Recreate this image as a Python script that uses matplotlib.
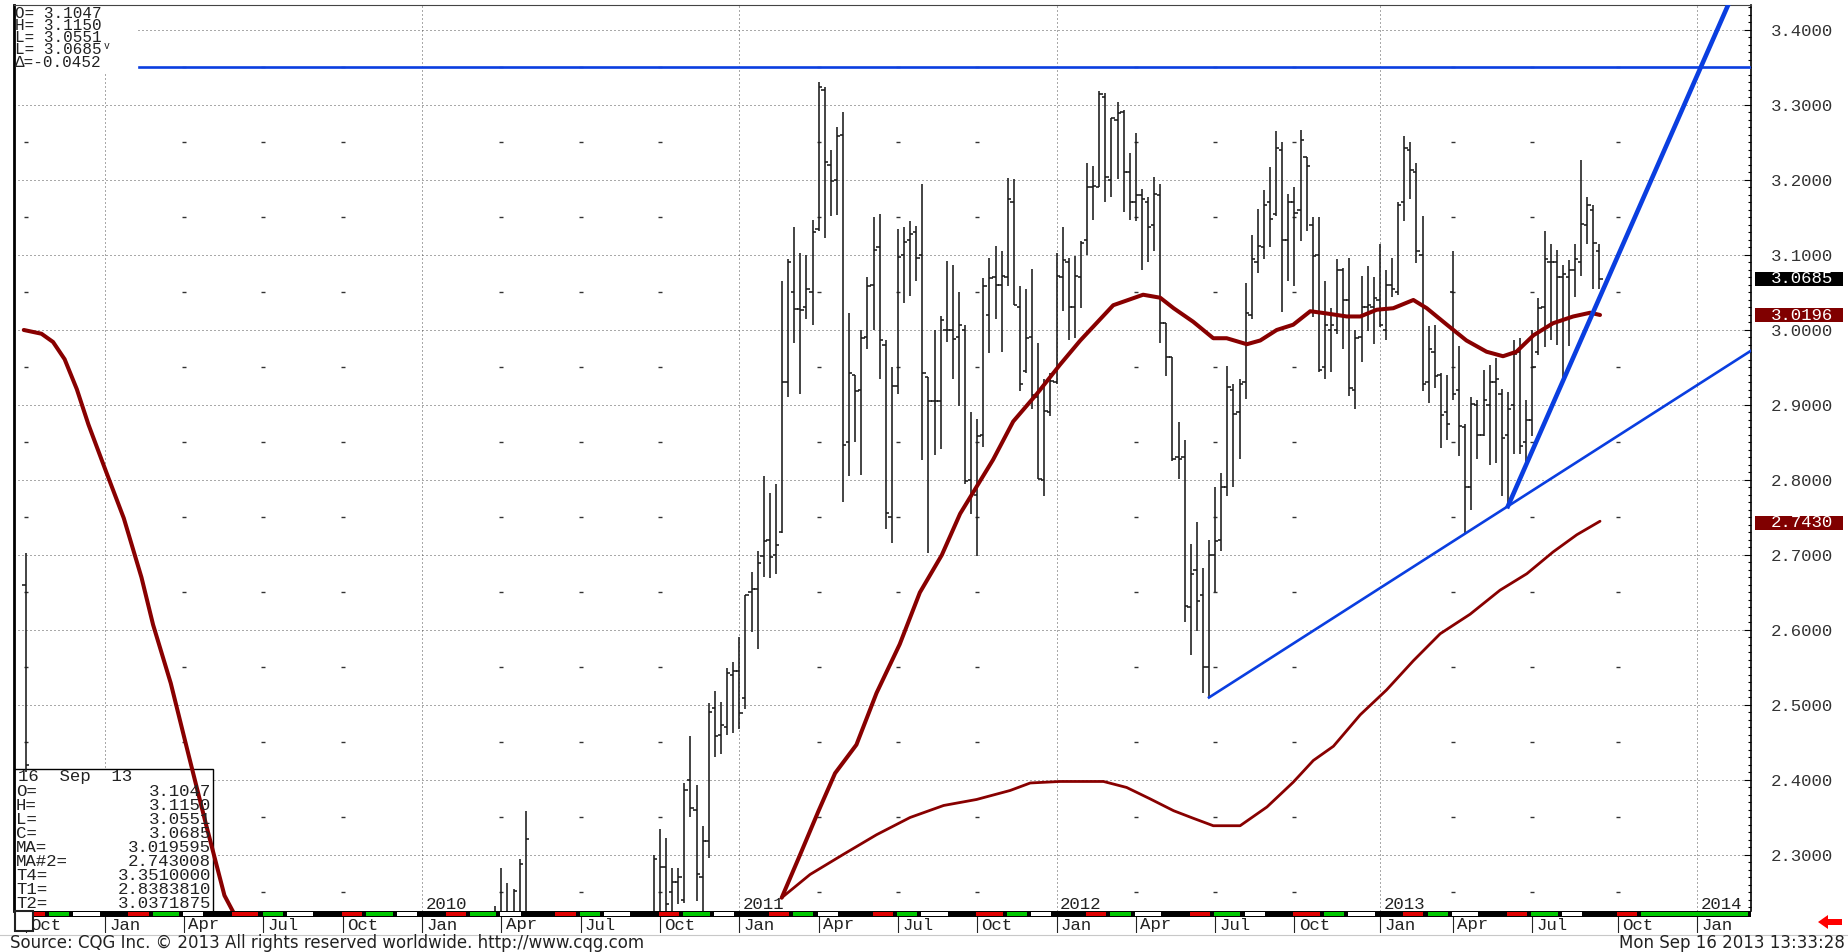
import math
from datetime import date
import matplotlib
matplotlib.use("Agg")
import matplotlib.pyplot as plt
from matplotlib.patches import Rectangle, Polygon
from matplotlib.ticker import MultipleLocator, FormatStrFormatter

W, H = 1848, 952
plt.rcParams['font.family'] = ['Liberation Mono', 'DejaVu Sans Mono']
FS = 12.5

# ---- weekly OHLC bars, week 0 = week of 3 Jan 2011 ----
early_week = [-117, -40, -39, -38, -37, -36, -35,
              -14, -13, -12, -11, -10, -9, -8, -7, -6, -5, -4, -3, -2, -1]
early_open = [2.660, 2.200, 2.200, 2.210, 2.200, 2.210, 2.220,
              2.200, 2.220, 2.284, 2.250, 2.264, 2.240, 2.400, 2.360, 2.270, 2.318, 2.496, 2.460, 2.470, 2.540]
early_high = [2.702, 2.232, 2.283, 2.262, 2.254, 2.295, 2.358,
              2.300, 2.335, 2.323, 2.282, 2.283, 2.396, 2.458, 2.393, 2.339, 2.502, 2.518, 2.504, 2.549, 2.557]
early_low = [2.410, 2.150, 2.150, 2.150, 2.150, 2.180, 2.180,
             2.180, 2.190, 2.200, 2.200, 2.234, 2.236, 2.350, 2.238, 2.200, 2.296, 2.431, 2.435, 2.460, 2.462]
early_close = [2.420, 2.210, 2.210, 2.220, 2.252, 2.288, 2.321,
               2.295, 2.284, 2.235, 2.264, 2.270, 2.386, 2.363, 2.275, 2.318, 2.490, 2.458, 2.473, 2.543, 2.545]

opens = [2.545, 2.509, 2.650, 2.655, 2.698, 2.720, 2.700, 2.730, 2.930, 3.050,
         3.028, 3.030, 3.050, 3.135, 3.320, 3.220, 3.200, 3.260, 2.850, 2.940,
         2.920, 2.990, 3.060, 3.110, 2.980, 2.750, 2.925, 3.100, 3.120, 3.130,
         3.100, 2.937, 2.905, 2.905, 3.000, 3.000, 2.990, 3.000, 2.800, 2.780,
         2.860, 3.020, 3.070, 3.060, 3.070, 3.170, 3.030, 2.945, 2.990, 2.910,
         2.800, 2.890, 2.930, 3.070, 3.090, 3.030, 3.070, 3.120, 3.190, 3.190,
         3.310, 3.200, 3.280, 3.290, 3.210, 3.170, 3.180, 3.170, 3.140, 3.180,
         3.009, 2.964, 2.830, 2.830, 2.630, 2.680, 2.646, 2.550, 2.700, 2.720,
         2.790, 2.920, 2.890, 2.930, 3.020, 3.090, 3.110, 3.170, 3.155, 3.240,
         3.120, 3.170, 3.160, 3.230, 3.140, 3.100, 2.950, 3.000, 3.000, 3.080,
         3.040, 2.920, 2.990, 3.030, 3.030, 3.040, 3.000, 3.060, 3.050, 3.170,
         3.240, 3.210, 3.100, 2.930, 2.970, 2.940, 2.890, 3.050, 2.920, 2.870,
         2.790, 2.900, 2.860, 2.900, 2.930, 2.915, 2.860, 2.900, 2.970, 2.850,
         2.880, 2.970, 3.030, 3.090, 3.090, 3.070, 3.070, 3.080, 3.090, 3.140,
         3.160, 3.1047]
highs = [2.590, 2.646, 2.677, 2.705, 2.805, 2.783, 2.794, 3.065, 3.094, 3.137,
         3.103, 3.100, 3.147, 3.331, 3.324, 3.240, 3.271, 3.291, 3.022, 2.940,
         3.000, 3.070, 3.150, 3.154, 2.986, 2.951, 3.135, 3.137, 3.145, 3.139,
         3.195, 2.937, 3.000, 3.018, 3.092, 3.087, 3.051, 3.006, 2.890, 2.881,
         3.069, 3.096, 3.112, 3.105, 3.202, 3.201, 3.058, 3.054, 3.081, 2.982,
         2.935, 2.942, 3.103, 3.137, 3.096, 3.098, 3.119, 3.223, 3.219, 3.318,
         3.316, 3.283, 3.304, 3.293, 3.236, 3.262, 3.188, 3.177, 3.204, 3.194,
         3.009, 2.964, 2.877, 2.853, 2.715, 2.744, 2.682, 2.720, 2.791, 2.809,
         2.952, 2.928, 2.934, 3.062, 3.127, 3.161, 3.186, 3.217, 3.265, 3.251,
         3.181, 3.190, 3.267, 3.231, 3.150, 3.150, 3.065, 3.029, 3.094, 3.083,
         3.096, 3.000, 3.072, 3.085, 3.071, 3.114, 3.080, 3.096, 3.170, 3.259,
         3.251, 3.222, 3.152, 3.005, 3.007, 2.942, 2.940, 3.105, 2.978, 2.874,
         2.910, 2.906, 2.947, 2.953, 2.963, 2.921, 2.917, 2.987, 2.989, 2.906,
         3.000, 3.042, 3.132, 3.114, 3.107, 3.087, 3.093, 3.114, 3.226, 3.177,
         3.166, 3.1150]
lows = [2.468, 2.494, 2.597, 2.574, 2.670, 2.669, 2.675, 2.729, 2.910, 2.982,
        2.915, 3.015, 3.006, 3.132, 3.122, 3.152, 3.153, 2.770, 2.805, 2.850,
        2.806, 2.975, 3.000, 2.935, 2.734, 2.716, 2.915, 3.036, 3.045, 3.065,
        2.827, 2.702, 2.833, 2.841, 2.984, 2.934, 2.899, 2.794, 2.754, 2.698,
        2.844, 2.969, 3.015, 2.971, 3.058, 3.033, 2.919, 2.942, 2.895, 2.801,
        2.779, 2.885, 2.928, 3.025, 2.987, 2.989, 3.029, 3.100, 3.147, 3.190,
        3.170, 3.177, 3.201, 3.157, 3.147, 3.145, 3.080, 3.090, 3.105, 2.982,
        2.939, 2.825, 2.801, 2.610, 2.567, 2.599, 2.516, 2.510, 2.650, 2.705,
        2.778, 2.791, 2.828, 2.908, 3.015, 3.076, 3.094, 3.110, 3.152, 3.024,
        3.065, 3.059, 3.119, 3.132, 3.017, 2.944, 2.935, 2.944, 2.994, 2.975,
        2.912, 2.895, 2.957, 2.998, 2.981, 3.004, 2.986, 3.044, 3.046, 3.145,
        3.175, 3.089, 2.919, 2.903, 2.923, 2.843, 2.853, 2.906, 2.832, 2.729,
        2.760, 2.828, 2.858, 2.820, 2.823, 2.779, 2.768, 2.835, 2.834, 2.823,
        2.858, 2.966, 2.977, 2.987, 2.980, 2.935, 2.979, 3.044, 3.072, 3.114,
        3.054, 3.0551]
closes = [2.489, 2.646, 2.655, 2.689, 2.718, 2.697, 2.713, 2.930, 3.090, 3.028,
          3.026, 3.054, 3.130, 3.324, 3.224, 3.199, 3.258, 2.846, 2.942, 2.919,
          2.989, 3.058, 3.107, 2.986, 2.756, 2.925, 3.097, 3.117, 3.128, 3.096,
          2.942, 2.905, 2.905, 3.013, 3.000, 2.988, 3.007, 2.798, 2.783, 2.859,
          3.058, 3.069, 3.060, 3.072, 3.174, 3.033, 2.928, 2.989, 2.913, 2.801,
          2.892, 2.932, 3.072, 3.093, 3.030, 3.072, 3.116, 3.190, 3.192, 3.314,
          3.204, 3.282, 3.289, 3.210, 3.170, 3.180, 3.175, 3.137, 3.181, 3.009,
          2.964, 2.828, 2.828, 2.632, 2.675, 2.639, 2.550, 2.700, 2.718, 2.791,
          2.924, 2.888, 2.928, 3.022, 3.094, 3.112, 3.166, 3.148, 3.242, 3.120,
          3.170, 3.156, 3.253, 3.218, 3.098, 2.946, 3.007, 3.007, 3.080, 3.040,
          2.923, 2.989, 3.030, 3.033, 3.043, 3.007, 3.060, 3.054, 3.166, 3.242,
          3.213, 3.105, 2.928, 2.975, 2.939, 2.887, 2.874, 2.915, 2.872, 2.791,
          2.901, 2.860, 2.906, 2.930, 2.935, 2.856, 2.895, 2.968, 2.845, 2.880,
          2.950, 3.029, 3.094, 3.090, 3.071, 3.074, 3.080, 3.094, 3.141, 3.166,
          3.116, 3.0685]
week = list(range(len(closes)))

# ---- moving averages ----
ma_left_week = [-117.3, -114.4, -112.5, -110.6, -108.6, -106.7, -103.8, -100.9,
                -98.0, -96.1, -93.2, -90.3, -87.4, -84.4, -82.9]
ma_left_val = [3.000, 2.995, 2.984, 2.961, 2.921, 2.874, 2.811, 2.749,
               2.670, 2.607, 2.529, 2.434, 2.340, 2.246, 2.223]
ma_week = [6.95, 9.95, 12.95, 15.7, 19.2, 22.5, 26.3, 29.6, 33.2, 36.2, 38.9, 41.6,
           44.9, 48.8, 52.6, 55.9, 61.3, 66.2, 69.0, 71.2, 74.4, 77.7, 79.9, 83.2,
           85.4, 88.1, 90.8, 93.6, 96.3, 99.6, 101.8, 104.5, 107.2, 110.5, 112.7,
           116.0, 119.2, 122.5, 125.2, 127.4, 130.2, 133.4, 136.7, 139.5, 141.1]
ma_val = [2.243, 2.300, 2.358, 2.409, 2.447, 2.516, 2.581, 2.650, 2.700, 2.755, 2.791, 2.827,
          2.878, 2.915, 2.954, 2.986, 3.033, 3.047, 3.043, 3.029, 3.011, 2.989, 2.989, 2.981,
          2.986, 3.000, 3.007, 3.025, 3.022, 3.018, 3.018, 3.027, 3.029, 3.040, 3.029,
          3.007, 2.986, 2.971, 2.965, 2.971, 2.993, 3.009, 3.018, 3.023, 3.020]
ma2_week = [6.95, 11.6, 17.1, 22.5, 28.0, 33.5, 38.9, 44.4, 47.7, 52.6, 59.7, 63.5,
            67.3, 71.2, 74.4, 77.7, 82.1, 86.5, 90.8, 94.1, 97.4, 101.8, 106.1, 110.5,
            114.9, 119.8, 124.7, 129.1, 133.4, 137.3, 141.1]
ma2_val = [2.243, 2.274, 2.301, 2.327, 2.350, 2.366, 2.374, 2.386, 2.396, 2.398, 2.398, 2.390,
           2.375, 2.359, 2.349, 2.339, 2.339, 2.364, 2.397, 2.426, 2.445, 2.487, 2.520, 2.559,
           2.595, 2.621, 2.653, 2.675, 2.704, 2.727, 2.745]

# ---- trend lines (anchor points) ----
t4_value = 3.351
t4_start = -98.4
t1_week = [77, 126]
t1_val = [2.510, 2.765]
t2_week = [126, 150.9]
t2_val = [2.765, 3.226]

top_info = ["O= 3.1047", "H= 3.1150", "L= 3.0551", "L= 3.0685", "\u0394=-0.0452"]
info_labels = ["O=", "H=", "L=", "C=", "MA=", "MA#2=", "T4=", "T1=", "T2="]
info_values = ["3.1047", "3.1150", "3.0551", "3.0685", "3.019595", "2.743008",
               "3.3510000", "2.8383810", "3.0371875"]
price_boxes = [(3.0685, "3.0685", "black"), (3.0196, "3.0196", "#800000"),
               (2.7430, "2.7430", "#800000")]

BASE = date(2011, 1, 3)


def week_of(d):
    return math.ceil((d - BASE).days / 7)


def P(x, y):
    # pixel (from top-left) -> figure fraction
    return x / W, 1 - y / H


X0, X1 = -118.9, 165.85
Y0, Y1 = 2.2253, 3.4333
BLUE = "#0a3ee0"
RED = "#880000"
INK = "#222222"

fig = plt.figure(figsize=(W / 100, H / 100), dpi=100)
ax = fig.add_axes([14 / W, 1 - 911 / H, (1751 - 14) / W, (911 - 5) / H])
ax.set_xlim(X0, X1)
ax.set_ylim(Y0, Y1)

# grid: dotted price lines, dotted year lines, quarter dashes
for v in [2.3 + 0.1 * i for i in range(12)]:
    ax.axhline(v, color="#555555", lw=0.72, ls=(0, (1, 3)), zorder=1)
years = [date(y, 1, 1) for y in range(2009, 2015)]
for d in years:
    ax.axvline(week_of(d), color="#555555", lw=0.72, ls=(0, (1, 3)), zorder=1)
    if d.year >= 2010:
        ax.text(week_of(d) + 0.6, 2.2345, str(d.year), fontsize=FS, color=INK,
                va="center", ha="left", zorder=6)
quarters = []
for y in range(2008, 2015):
    for m in (1, 4, 7, 10):
        d = date(y, m, 1)
        if date(2008, 10, 1) <= d <= date(2014, 1, 1):
            quarters.append(d)
levels = [2.25 + 0.1 * i for i in range(12)]
for d in quarters:
    if d.month != 1:
        ax.plot([week_of(d)] * len(levels), levels, ls="none", marker="_", ms=2.2,
                mew=1.0, color="#333333", zorder=1)

# bars
all_w = early_week + week
all_o = early_open + opens
all_h = early_high + highs
all_l = early_low + lows
all_c = early_close + closes
ax.vlines(all_w, all_l, all_h, color="#1a1a1a", lw=1.15, zorder=3)
ax.hlines(all_o, [w - 0.55 for w in all_w], all_w, color="#1a1a1a", lw=1.15, zorder=3)
ax.hlines(all_c, all_w, [w + 0.55 for w in all_w], color="#1a1a1a", lw=1.15, zorder=3)

# moving averages
ax.plot(ma_left_week, ma_left_val, color=RED, lw=2.9, solid_capstyle="round", zorder=4)
ax.plot(ma_week, ma_val, color=RED, lw=2.9, solid_capstyle="round", zorder=4)
ax.plot(ma2_week, ma2_val, color=RED, lw=2.0, solid_capstyle="round", zorder=4)

# trend lines
ax.plot([t4_start, X1], [t4_value, t4_value], color=BLUE, lw=1.9, zorder=5)
s1 = (t1_val[1] - t1_val[0]) / (t1_week[1] - t1_week[0])
ax.plot([t1_week[0], X1], [t1_val[0], t1_val[0] + s1 * (X1 - t1_week[0])],
        color=BLUE, lw=1.9, zorder=5)
s2 = (t2_val[1] - t2_val[0]) / (t2_week[1] - t2_week[0])
w_end = t2_week[0] + (3.5 - t2_val[0]) / s2
ax.plot([t2_week[0], w_end], [t2_val[0], 3.5], color=BLUE, lw=3.3, zorder=5)

# axis styling
ax.set_xticks([])
ax.yaxis.tick_right()
ax.yaxis.set_major_locator(MultipleLocator(0.1))
ax.yaxis.set_minor_locator(MultipleLocator(0.01))
ax.yaxis.set_major_formatter(FormatStrFormatter("%.4f"))
ax.tick_params(axis="y", which="major", direction="in", length=5, width=0.8,
               pad=14.5, labelsize=FS, labelcolor="#333333")
ax.tick_params(axis="y", which="minor", direction="in", length=2.5, width=0.8)
ax.spines["right"].set_linewidth(1.2)
ax.spines["left"].set_linewidth(2.0)
ax.spines["top"].set_linewidth(0.8)
ax.spines["top"].set_color("#444444")
ax.spines["bottom"].set_visible(False)

# top-left quote box
ax.add_patch(Rectangle(P(14, 72), 122 / W, 67 / H, transform=fig.transFigure,
                       facecolor="white", edgecolor="none", zorder=2))
for i, s in enumerate(top_info):
    ax.text(*P(15, 13 + 12.3 * i), s, transform=fig.transFigure, fontsize=11.5,
            color=INK, va="center", ha="left", zorder=6)
ax.text(*P(104, 46), "v", transform=fig.transFigure, fontsize=7,
        color=INK, va="center", ha="left", zorder=6)

# bottom-left info box
ax.add_patch(Rectangle(P(14, 912), 199 / W, 143 / H, transform=fig.transFigure,
                       facecolor="white", edgecolor="black", lw=1.0, zorder=2))
ax.text(*P(18, 777), "16  Sep  13", transform=fig.transFigure, fontsize=FS,
        color=INK, va="center", ha="left", zorder=6)
for i, (lab, val) in enumerate(zip(info_labels, info_values)):
    yy = 791 + 14.1 * i
    ax.text(*P(16, yy), lab, transform=fig.transFigure, fontsize=FS,
            color=INK, va="center", ha="left", zorder=6)
    ax.text(*P(211, yy), val, transform=fig.transFigure, fontsize=FS,
            color=INK, va="center", ha="right", zorder=6)

# price boxes on the right scale
for v, s, c in price_boxes:
    yp = 330 - (v - 3.0) * 750
    fig.patches.append(Rectangle(P(1755, yp + 7), 88 / W, 14 / H,
                                 transform=fig.transFigure, facecolor=c,
                                 edgecolor="none", zorder=3))
    fig.text(*P(1771, yp), s, fontsize=FS, color="white", va="center", ha="left", zorder=4)

# month strip
axs = fig.add_axes([14 / W, 1 - 917 / H, (1751 - 14) / W, 6 / H])
axs.set_xlim(X0, X1)
axs.set_ylim(0, 1)
axs.set_facecolor("black")
axs.set_xticks([])
axs.set_yticks([])
for sp in axs.spines.values():
    sp.set_visible(False)
strip_cols = ["#e00000", "#00c800", "#ffffff", "#000000"]
m_index = 2008 * 12 + 8
while m_index <= 2013 * 12 + 9:
    yy, mm = divmod(m_index, 12)
    d0 = date(yy, mm + 1, 1)
    y2, m2 = divmod(m_index + 1, 12)
    d1 = date(y2, m2 + 1, 1)
    col = strip_cols[(m_index - (2011 * 12 + 9)) % 4]
    k0, k1 = week_of(d0) - 0.5, week_of(d1) - 0.5
    axs.add_patch(Rectangle((k0 + 0.35, 0.2), k1 - k0 - 0.7, 0.6, facecolor=col,
                            edgecolor="none"))
    m_index += 1
k0 = week_of(date(2013, 11, 1)) - 0.5
axs.add_patch(Rectangle((k0 + 0.35, 0.2), X1 - k0 - 0.9, 0.6, facecolor="#00c800",
                        edgecolor="none"))

# month labels row
axd = fig.add_axes([14 / W, 1 - 933 / H, (1751 - 14) / W, 16 / H])
axd.set_xlim(X0, X1)
axd.set_ylim(0, 1)
axd.axis("off")
names = {1: "Jan", 4: "Apr", 7: "Jul", 10: "Oct"}
for d in quarters:
    k = week_of(d)
    axd.plot([k, k], [0.05, 1], color=INK, lw=0.8)
    axd.text(k + 0.7, 0.5, names[d.month], fontsize=FS, color=INK,
             va="center", ha="left")
fig.patches.append(Rectangle(P(15, 931), 18 / W, 20 / H, transform=fig.transFigure,
                             facecolor="white", edgecolor=INK, lw=1.5, zorder=3))
fig.lines.append(plt.Line2D([0, 1], [1 - 935 / H] * 2, transform=fig.transFigure,
                            color="#c8c8c8", lw=0.8))

# red arrow
fig.patches.append(Polygon([P(1818, 922), P(1828, 915), P(1828, 919), P(1842, 919),
                            P(1842, 925), P(1828, 925), P(1828, 929)],
                           closed=True, transform=fig.transFigure,
                           facecolor="#ff0000", edgecolor="none"))

# footer
fig.text(*P(10, 943.5), "Source: CQG Inc. \u00a9 2013 All rights reserved worldwide. http://www.cqg.com",
         family="DejaVu Sans", fontsize=12, color=INK, va="center", ha="left")
fig.text(*P(1845, 943.5), "Mon Sep 16 2013 13:33:28", family="DejaVu Sans",
         fontsize=12, color=INK, va="center", ha="right")

fig.savefig("out.png", dpi=100)
